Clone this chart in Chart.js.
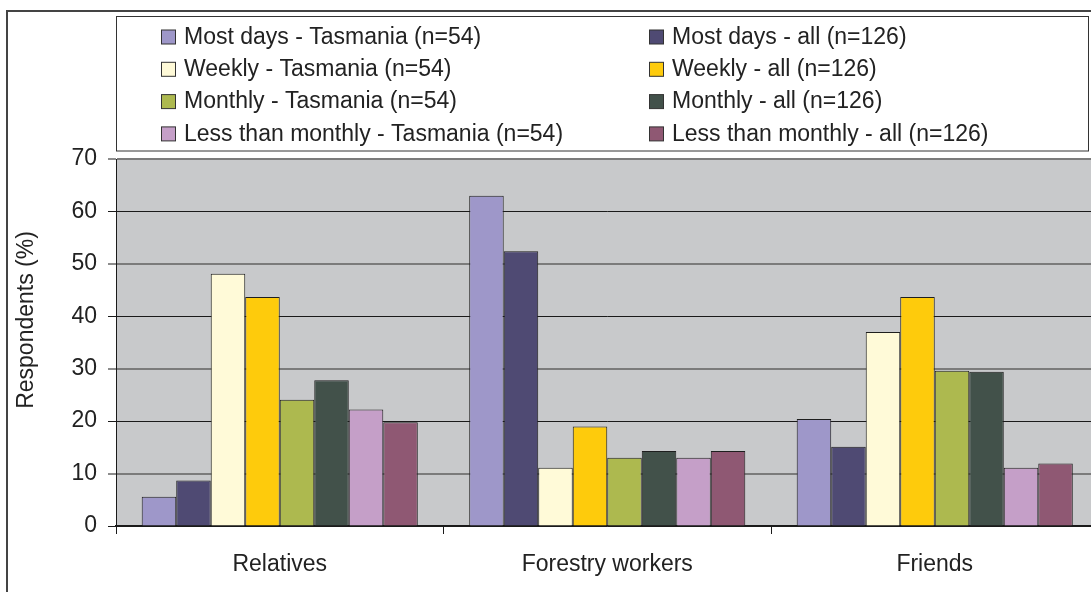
<!DOCTYPE html>
<html lang="en">
<head>
    <meta charset="UTF-8">
    <title>Contact frequency</title>
    <script src="https://cdn.jsdelivr.net/npm/chart.js@4.4.1/dist/chart.umd.min.js"></script>
    <style>
        html, body { margin: 0; padding: 0; background: #fff; overflow: hidden; }
        canvas { display: block; }
    </style>
</head>
<body>
    <canvas id="grafico" width="1100" height="600"></canvas>

    <script>
        // Categories and series (% of respondents)
        const categorias = ['Relatives', 'Forestry workers', 'Friends'];

        const mostDaysTas = [5.6, 63.0, 20.4];
        const mostDaysAll = [8.7, 52.4, 15.1];
        const weeklyTas = [48.1, 11.1, 37.0];
        const weeklyAll = [43.7, 19.0, 43.7];
        const monthlyTas = [24.1, 13.0, 29.6];
        const monthlyAll = [27.8, 14.3, 29.4];
        const lessTas = [22.2, 13.0, 11.1];
        const lessAll = [19.8, 14.3, 11.9];

        const etiquetas = [
            'Most days - Tasmania (n=54)', 'Most days - all (n=126)',
            'Weekly - Tasmania (n=54)', 'Weekly - all (n=126)',
            'Monthly - Tasmania (n=54)', 'Monthly - all (n=126)',
            'Less than monthly - Tasmania (n=54)', 'Less than monthly - all (n=126)'
        ];
        const colores = ['#9e97c9', '#4f4a73', '#fffad8', '#fecb0c',
                         '#adb94f', '#42514a', '#c59fc8', '#8f5873'];

        const tituloY = 'Respondents (%)';
        const yMax = 70;
        const yPaso = 10;

        const series = [mostDaysTas, mostDaysAll, weeklyTas, weeklyAll,
                        monthlyTas, monthlyAll, lessTas, lessAll];

        const fuente = "'Liberation Sans', Arial, sans-serif";
        Chart.defaults.font.family = fuente;
        Chart.defaults.color = '#222';

        // Gray plot background and outer frame
        const fondo = {
            id: 'fondo',
            beforeDraw(chart) {
                const { ctx, chartArea: a } = chart;
                ctx.save();
                ctx.fillStyle = '#c8c9cb';
                ctx.fillRect(a.left, a.top, a.right - a.left, a.bottom - a.top);
                ctx.strokeStyle = '#444';
                ctx.lineWidth = 2;
                ctx.strokeRect(7, 11, 2000, 2000);
                ctx.restore();
            }
        };

        // Two-column boxed legend above the plot, plus the rotated y title
        const leyenda = {
            id: 'leyenda',
            afterDraw(chart) {
                const ctx = chart.ctx;
                ctx.save();
                ctx.fillStyle = '#fff';
                ctx.fillRect(116.5, 16.5, 972, 134.5);
                ctx.strokeStyle = '#333';
                ctx.lineWidth = 1;
                ctx.strokeRect(116.5, 16.5, 972, 134.5);
                ctx.font = '23px ' + fuente;
                ctx.textBaseline = 'middle';
                chart.data.datasets.forEach((ds, i) => {
                    const x = [161, 649][i % 2];
                    const y = 36.5 + Math.floor(i / 2) * 32.3;
                    ctx.fillStyle = ds.backgroundColor;
                    ctx.fillRect(x + 0.5, y - 6.5, 14, 14);
                    ctx.strokeStyle = '#333';
                    ctx.strokeRect(x + 0.5, y - 6.5, 14, 14);
                    ctx.fillStyle = '#222';
                    ctx.fillText(ds.label, x + 23, y + 1);
                });

                ctx.translate(33, 320);
                ctx.rotate(-Math.PI / 2);
                ctx.textAlign = 'center';
                ctx.textBaseline = 'alphabetic';
                ctx.fillText(tituloY, 0, 0);
                ctx.restore();
            }
        };

        const ctx = document.getElementById('grafico').getContext('2d');
        new Chart(ctx, {
            type: 'bar',
            data: {
                labels: categorias,
                datasets: series.map((valores, i) => ({
                    label: etiquetas[i],
                    data: valores,
                    backgroundColor: colores[i],
                    borderColor: '#1e1e1e',
                    borderWidth: 1,
                    categoryPercentage: 0.843,
                    barPercentage: 1
                }))
            },
            options: {
                responsive: false,
                animation: false,
                layout: { padding: { top: 159, right: 1.5, bottom: 0, left: 0 } },
                plugins: {
                    legend: { display: false },
                    tooltip: { enabled: false }
                },
                scales: {
                    x: {
                        afterFit(scale) { scale.height = 74; },
                        grid: {
                            drawOnChartArea: false,
                            drawTicks: true,
                            tickLength: 8,
                            color: '#1a1a1a'
                        },
                        border: { color: '#1a1a1a', width: 1.5 },
                        ticks: { font: { size: 23 }, padding: 17, color: '#222' }
                    },
                    y: {
                        min: 0,
                        max: yMax,
                        afterFit(scale) { scale.width = 116; },
                        ticks: { stepSize: yPaso, font: { size: 23 }, padding: 11, color: '#222' },
                        grid: {
                            color: c => (c.tick.value / yPaso) % 2 === 1 ? '#7b7b7b' : '#1a1a1a',
                            lineWidth: c => (c.tick.value / yPaso) % 2 === 1 ? 2 : 1,
                            tickColor: '#1a1a1a',
                            tickWidth: 1,
                            tickLength: 8
                        },
                        border: { color: '#1a1a1a', width: 1 }
                    }
                }
            },
            plugins: [fondo, leyenda]
        });
    </script>
</body>
</html>
